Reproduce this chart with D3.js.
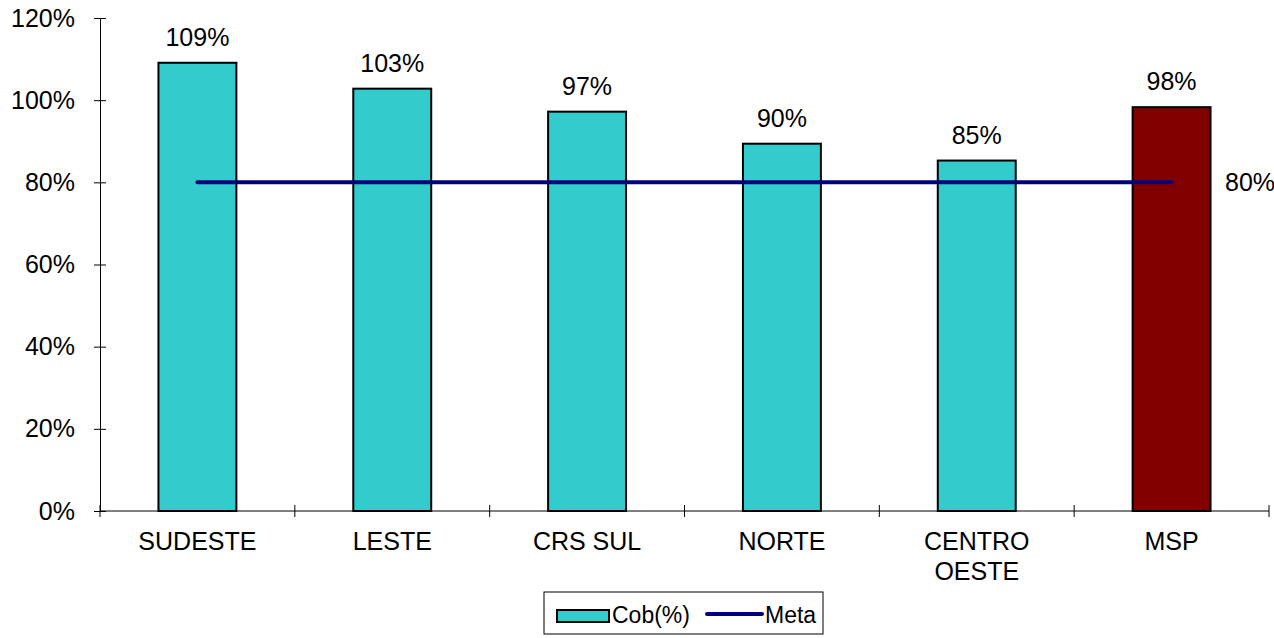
<!DOCTYPE html>
<html>
<head>
<meta charset="utf-8">
<script src="https://cdn.jsdelivr.net/npm/d3@7"></script>
<style>
  body { margin: 0; background: #fff; }
  text { font-family: "Liberation Sans", Arial, sans-serif; fill: #000; }
</style>
</head>
<body>
<svg id="viz"></svg>
<script>
// chart data
const categories = [["SUDESTE"], ["LESTE"], ["CRS SUL"], ["NORTE"], ["CENTRO", "OESTE"], ["MSP"]];
const cobValues = [109.1, 102.8, 97.2, 89.4, 85.3, 98.3];
const cobLabels = ["109%", "103%", "97%", "90%", "85%", "98%"];
const metaValue = 80;
const yTicks = [0, 20, 40, 60, 80, 100, 120];

const width = 1274, height = 638;
const svg = d3.select("#viz").attr("width", width).attr("height", height);

// plot area edges
const plotLeft = 100, plotRight = 1269, plotTop = 18, plotBottom = 511;

const x = d3.scaleBand()
  .domain(d3.range(categories.length))
  .range([plotLeft, plotRight])
  .paddingInner(0.6)
  .paddingOuter(0.3);

// band step for ticks between categories
const step = (plotRight - plotLeft) / categories.length;

const y = d3.scaleLinear().domain([0, 120]).range([plotBottom, plotTop]);

// y axis
const yAxis = svg.append("g")
  .attr("transform", `translate(${plotLeft},0)`)
  .call(d3.axisLeft(y).tickValues(yTicks).tickFormat(d => d + "%").tickSizeInner(6).tickSizeOuter(0));
yAxis.select(".domain").attr("stroke", "#000");
yAxis.selectAll(".tick line").attr("x2", 6).attr("x1", -6).attr("stroke", "#000");
yAxis.selectAll(".tick text")
  .attr("x", -25)
  .style("font-size", "25px")
  .style("font-family", "'Liberation Sans', Arial, sans-serif");

// bars
svg.selectAll("rect.bar")
  .data(cobValues)
  .enter()
  .append("rect")
  .attr("class", "bar")
  .attr("x", (d, i) => x(i))
  .attr("y", d => y(d))
  .attr("width", x.bandwidth())
  .attr("height", d => y(0) - y(d))
  .attr("fill", (d, i) => i === categories.length - 1 ? "#800000" : "#33CCCC")
  .attr("stroke", "#000")
  .attr("stroke-width", 2);

// x axis line and ticks
svg.append("line")
  .attr("x1", plotLeft).attr("x2", plotRight)
  .attr("y1", plotBottom).attr("y2", plotBottom)
  .attr("stroke", "#000").attr("stroke-width", 1);

svg.selectAll("line.xtick")
  .data(d3.range(categories.length + 1))
  .enter()
  .append("line")
  .attr("class", "xtick")
  .attr("x1", i => plotLeft + i * step)
  .attr("x2", i => plotLeft + i * step)
  .attr("y1", plotBottom - 6)
  .attr("y2", plotBottom + 6)
  .attr("stroke", "#000");

// category labels
const catText = svg.selectAll("text.cat")
  .data(categories)
  .enter()
  .append("text")
  .attr("class", "cat")
  .attr("text-anchor", "middle")
  .style("font-size", "25px");
catText.selectAll("tspan")
  .data((d, i) => d.map(s => ({ s, i })))
  .enter()
  .append("tspan")
  .attr("x", d => x(d.i) + x.bandwidth() / 2)
  .attr("y", (d, j) => 550 + j * 30)
  .text(d => d.s);

// value labels
svg.selectAll("text.val")
  .data(cobValues)
  .enter()
  .append("text")
  .attr("class", "val")
  .attr("text-anchor", "middle")
  .attr("x", (d, i) => x(i) + x.bandwidth() / 2)
  .attr("y", d => y(d) - 17)
  .style("font-size", "25px")
  .text((d, i) => cobLabels[i]);

// meta line
const metaX1 = x(0) + x.bandwidth() / 2;
const metaX2 = x(categories.length - 1) + x.bandwidth() / 2;
svg.append("line")
  .attr("x1", metaX1).attr("x2", metaX2)
  .attr("y1", y(metaValue)).attr("y2", y(metaValue))
  .attr("stroke", "#000080")
  .attr("stroke-width", 4)
  .attr("stroke-linecap", "round");

svg.append("text")
  .attr("x", 1225)
  .attr("y", y(metaValue) + 9)
  .style("font-size", "25px")
  .text(metaValue + "%");

// legend
const lg = svg.append("g");
lg.append("rect")
  .attr("x", 544).attr("y", 592)
  .attr("width", 279).attr("height", 42)
  .attr("fill", "#fff").attr("stroke", "#000").attr("stroke-width", 1);
lg.append("rect")
  .attr("x", 557).attr("y", 610)
  .attr("width", 52).attr("height", 12)
  .attr("fill", "#33CCCC").attr("stroke", "#000").attr("stroke-width", 2);
lg.append("text")
  .attr("x", 612).attr("y", 623)
  .style("font-size", "23px")
  .text("Cob(%)");
lg.append("line")
  .attr("x1", 707).attr("x2", 762)
  .attr("y1", 614).attr("y2", 614)
  .attr("stroke", "#000080").attr("stroke-width", 4).attr("stroke-linecap", "round");
lg.append("text")
  .attr("x", 765).attr("y", 623)
  .style("font-size", "23px")
  .text("Meta");
</script>
</body>
</html>
